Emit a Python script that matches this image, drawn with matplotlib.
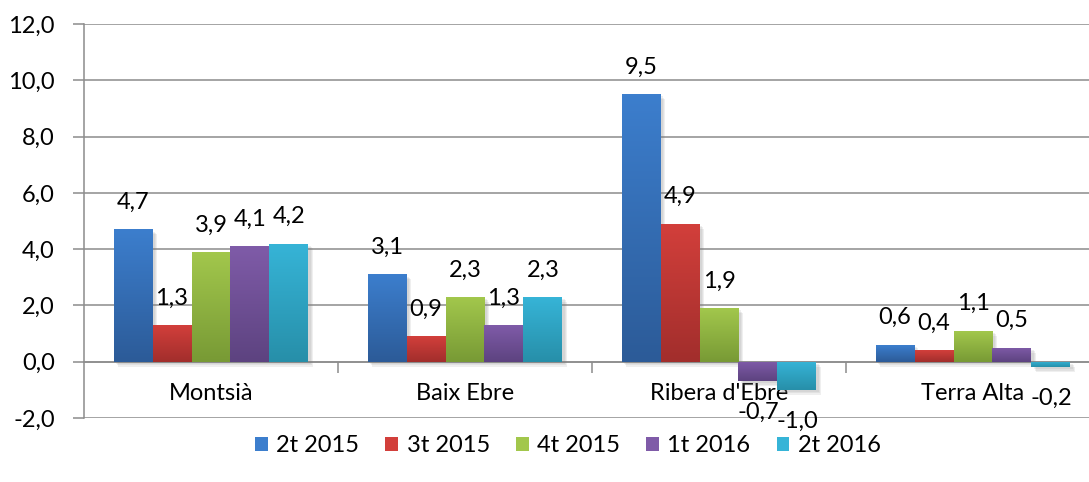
import numpy as np
import matplotlib
matplotlib.use("Agg")
import matplotlib.pyplot as plt
from matplotlib.patches import Patch
import matplotlib.patheffects as pe
from matplotlib.colors import to_rgb

categories = ["Montsià", "Baix Ebre", "Ribera d'Ebre", "Terra Alta"]
series_names = ["2t 2015", "3t 2015", "4t 2015", "1t 2016", "2t 2016"]
v_2t2015 = [4.7, 3.1, 9.5, 0.6]
v_3t2015 = [1.3, 0.9, 4.9, 0.4]
v_4t2015 = [3.9, 2.3, 1.9, 1.1]
v_1t2016 = [4.1, 1.3, -0.7, 0.5]
v_2t2016 = [4.2, 2.3, -1.0, -0.2]
all_values = [v_2t2015, v_3t2015, v_4t2015, v_1t2016, v_2t2016]

# top / bottom colours of the gradient fill
top_colors = ["#3c7ecd", "#d23f3b", "#a2c74c", "#7f5ba8", "#36b4d7"]
bot_colors = ["#2c5b98", "#a22e2c", "#789a35", "#5d4380", "#278fa9"]

plt.rcParams['font.family'] = ['Lato', 'DejaVu Sans']
FS = 17
GRID = '#8c8c8c'


def fmt(v):
    return f"{v:.1f}".replace('.', ',')


def gradient(c1, c2, n=64):
    a = np.array(to_rgb(c1))
    b = np.array(to_rgb(c2))
    t = np.linspace(0, 1, n)[:, None]
    return (a * (1 - t) + b * t)[:, None, :]


def main():
    fig = plt.figure(figsize=(10.89, 4.82), dpi=100)
    # right side of the plot area runs past the picture edge, like the original
    ax = fig.add_axes([84 / 1089, 64 / 482, 1016 / 1089, 394 / 482])

    # soft shadow: a few faint offset copies
    shadow = [pe.SimplePatchShadow(offset=(o, -o), shadow_rgbFace='#808080', alpha=0.12)
              for o in (1.5, 2.5, 3.5)]

    x = np.arange(len(categories))
    bw = 0.1535
    for k, vals in enumerate(all_values):
        pos = x + (k - 2) * bw
        bars = ax.bar(pos, vals, width=bw, color=bot_colors[k], zorder=2,
                      linewidth=0, path_effects=shadow + [pe.Normal()])
        for b, v in zip(bars, vals):
            x0 = b.get_x()
            lo, hi = min(0, v), max(0, v)
            im = ax.imshow(gradient(top_colors[k], bot_colors[k]), extent=(x0, x0 + bw, lo, hi),
                           origin='upper', aspect='auto', zorder=2.1, interpolation='bilinear')
            im.set_clip_path(b)
            if v >= 0:
                ax.annotate(fmt(v), (x0 + bw / 2, v), xytext=(0, 19.5), textcoords='offset points',
                            ha='center', va='center', fontsize=FS, zorder=5)
            else:
                ax.annotate(fmt(v), (x0 + bw / 2, v), xytext=(0, -22.5), textcoords='offset points',
                            ha='center', va='center', fontsize=FS, zorder=5)

    ax.set_xlim(-0.5, len(categories) - 0.5)
    ax.set_ylim(-2, 12)
    ax.set_yticks(np.arange(-2, 13, 2))
    ax.set_yticklabels([fmt(t) for t in np.arange(-2, 13, 2)])
    ax.yaxis.grid(True, color=GRID, linewidth=1.1)
    ax.set_axisbelow(True)

    ax.set_xticks(x)
    ax.set_xticklabels(categories)
    ax.set_xticks(np.arange(0.5, len(categories) - 0.5, 1), minor=True)
    ax.tick_params(axis='x', which='major', length=0, pad=15, labelsize=FS)
    ax.tick_params(axis='x', which='minor', length=8, width=1.1, color=GRID)
    ax.tick_params(axis='y', length=8, width=1.1, color=GRID, pad=13, labelsize=FS)

    ax.spines['bottom'].set_position(('data', 0))
    ax.spines['bottom'].set_color(GRID)
    ax.spines['bottom'].set_linewidth(1.1)
    ax.spines['bottom'].set_zorder(1.5)
    ax.spines['left'].set_color(GRID)
    ax.spines['left'].set_linewidth(1.1)
    ax.spines['top'].set_visible(False)
    ax.spines['right'].set_visible(False)

    handles = [Patch(facecolor=c, edgecolor='none') for c in top_colors]
    fig.legend(handles, series_names, loc='center', bbox_to_anchor=(568 / 1089, 36 / 482),
               ncol=5, frameon=False, fontsize=FS, handlelength=0.55, handleheight=0.55,
               handletextpad=0.35, columnspacing=1.1)

    fig.savefig("out.png", dpi=100)


if __name__ == "__main__":
    main()
